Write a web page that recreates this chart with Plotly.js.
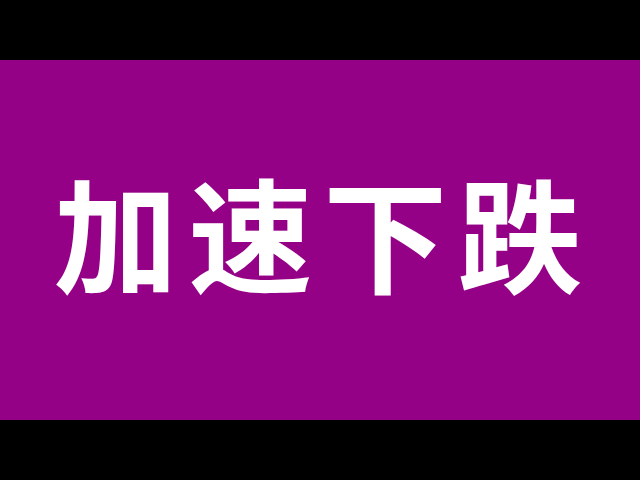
<!DOCTYPE html>
<html>
<head>
<meta charset="utf-8">
<script src="https://cdn.plot.ly/plotly-3.0.1.min.js"></script>
<style>
  html, body { margin: 0; padding: 0; background: #000; }
  #g1 { width: 640px; height: 480px; }
</style>
</head>
<body>
<div id="g1"></div>
<script>
// one character per slot, left to right
var chars = ['加', '速', '下', '跌'];
var slots = [0, 1, 2, 3];
var rows = [0, 0, 0, 0];

var purple = '#940086';

var words = {
  x: slots,
  y: rows,
  text: chars,
  mode: 'text',
  type: 'scatter',
  textposition: 'middle center',
  textfont: {
    family: '"Noto Sans CJK SC", "Noto Sans CJK TC", sans-serif',
    size: 124,
    color: 'white',
    weight: 700
  },
  hoverinfo: 'skip'
};

var layout = {
  width: 640,
  height: 480,
  margin: {l: 0, r: 0, t: 60, b: 60, pad: 0},
  paper_bgcolor: 'black',
  plot_bgcolor: purple,
  showlegend: false,
  xaxis: {visible: false, range: [-0.86, 3.89], fixedrange: true},
  yaxis: {visible: false, range: [-0.93, 1.07], fixedrange: true}
};

Plotly.newPlot('g1', [words], layout, {displayModeBar: false, staticPlot: true});
</script>
</body>
</html>
